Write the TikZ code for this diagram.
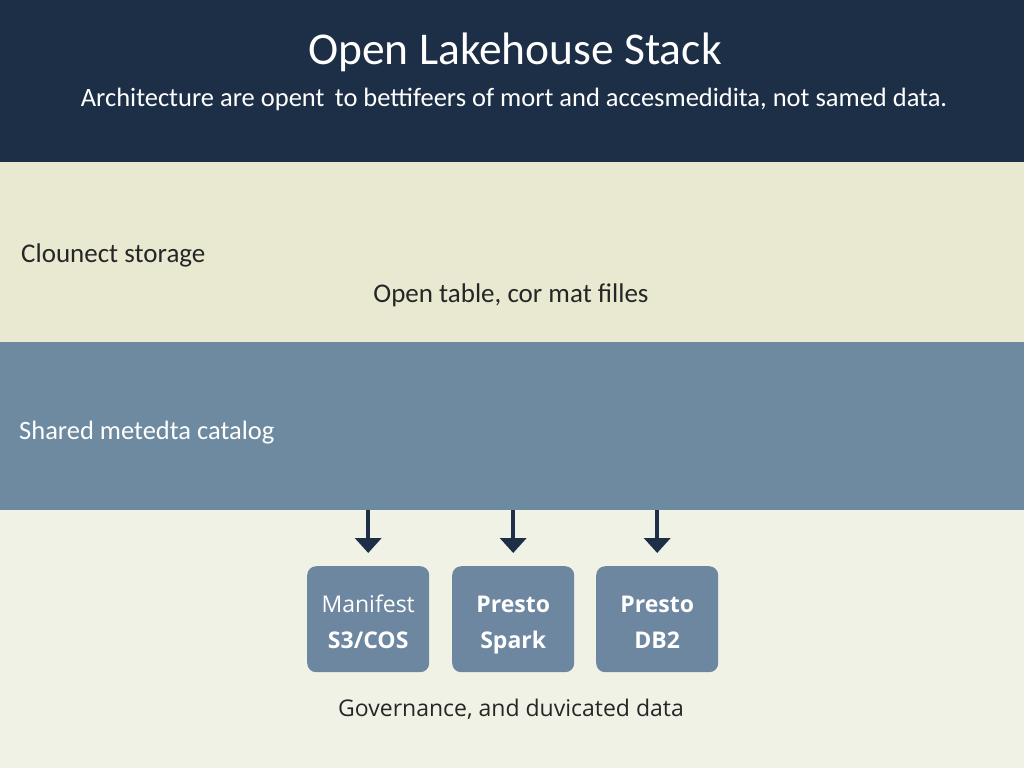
\documentclass[tikz,border=0pt]{standalone}
\usepackage{fontspec}
\setmainfont{Carlito}
\newfontfamily\opensans{Open Sans}
\usetikzlibrary{arrows.meta}
\definecolor{navy}{HTML}{1D2F47}
\definecolor{cream}{HTML}{E9E9D2}
\definecolor{slate}{HTML}{6D8AA0}
\definecolor{paper}{HTML}{F1F2E6}
\definecolor{boxfill}{HTML}{6D87A0}
\definecolor{arrowc}{HTML}{1D2F47}
\newcommand\topstrut{\rule{0pt}{30pt}}
\newcommand\botstrut{\rule[-8pt]{0pt}{8pt}}
\tikzset{
  band/.style={draw=none, inner sep=0pt, minimum width=1024pt, anchor=north west},
  engine/.style={draw=none, fill=boxfill, rounded corners=9pt, minimum width=122pt, minimum height=106pt, inner sep=0pt, text=white, align=center, font=\opensans\fontsize{23}{36}\selectfont, anchor=north west},
  flow/.style={draw=arrowc, line width=4pt, -{Triangle[width=26pt,length=15pt]}, shorten >=13pt}
}
\begin{document}
\begin{tikzpicture}[x=1pt,y=-1pt]
\useasboundingbox (0,0) rectangle (1024,768);
\fill[paper] (0,0) rectangle (1024,768);
\node[band, fill=navy, minimum height=162pt] (header) at (0,0) {};
\node[band, fill=cream, minimum height=180pt] (storage) at (0,162) {};
\node[band, fill=slate, minimum height=168pt] (catalog) at (0,342) {};
\node[text=white, font=\fontsize{45.5}{54}\selectfont] (title) at (515,52) {Open Lakehouse Stack};
\node[text=white, font=\fontsize{26.5}{32}\selectfont] (subtitle) at (514,99) {Architecture are opent\, to bettifeers of mort and accesmedidita, not samed data.};
\node[anchor=west, inner sep=0pt, text=black!85, font=\fontsize{27}{32}\selectfont] (stlabel) at (21,255) {Clounect storage};
\node[inner sep=0pt, text=black!85, font=\fontsize{27}{32}\selectfont] (fmt) at (511,295) {Open table, cor mat filles};
\node[anchor=west, inner sep=0pt, text=white, font=\fontsize{26.5}{32}\selectfont] (catlabel) at (19,433) {Shared metedta catalog};
\node[engine] (e1) at (307,566) {\topstrut Manifest\\\textbf{S3/COS}\botstrut};
\node[engine] (e2) at (452,566) {\topstrut\textbf{Presto}\\\textbf{Spark}\botstrut};
\node[engine] (e3) at (596,566) {\topstrut\textbf{Presto}\\\textbf{DB2}\botstrut};
\coordinate (s1) at (e1.north |- catalog.south);
\coordinate (s2) at (e2.north |- catalog.south);
\coordinate (s3) at (e3.north |- catalog.south);
\draw[flow] (s1) -- (e1.north);
\draw[flow] (s2) -- (e2.north);
\draw[flow] (s3) -- (e3.north);
\node[text=black!85, font=\opensans\fontsize{23}{28}\selectfont] (gov) at (511,709) {Governance, and duvicated data};
\end{tikzpicture}
\end{document}
